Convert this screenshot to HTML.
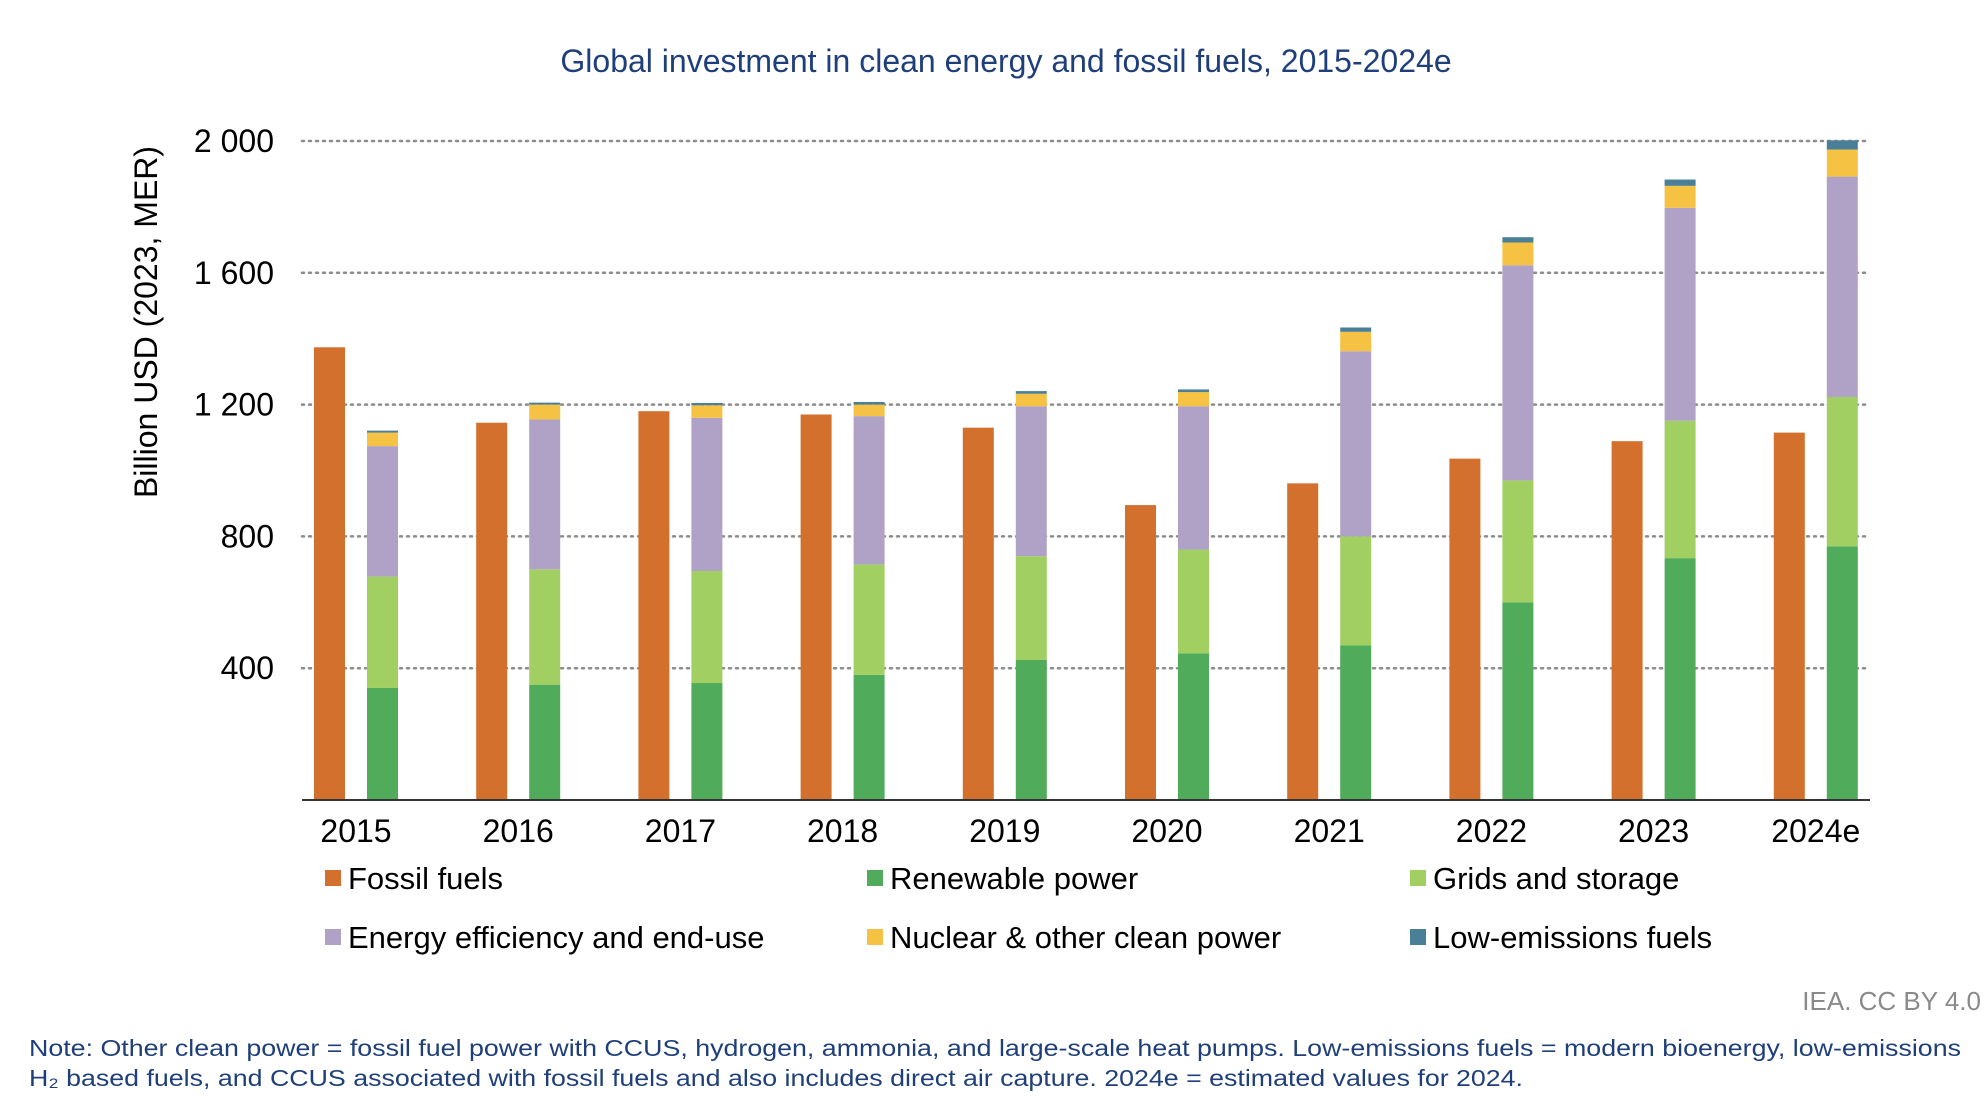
<!DOCTYPE html>
<html><head><meta charset="utf-8"><style>
body{margin:0;background:#fff;}
svg{display:block;font-family:"Liberation Sans",Arial,sans-serif;}
</style></head><body>
<svg id="chart" width="1986" height="1112" viewBox="0 0 1986 1112">
<text x="1006" y="72" text-anchor="middle" font-size="32" fill="#1f3f7a">Global investment in clean energy and fossil fuels, 2015-2024e</text>
<text transform="translate(157,322) rotate(-90)" text-anchor="middle" font-size="32" fill="#000">Billion USD (2023, MER)</text>
<g id="grid"></g><g id="bars"></g><g id="xlabels"></g>
<line x1="302" y1="800" x2="1870" y2="800" stroke="#333" stroke-width="2"/>
<g id="legend"></g>
<text x="1981" y="1010" text-anchor="end" font-size="26" fill="#8a8a8a">IEA. CC BY 4.0</text>
<text x="29" y="1056" font-size="23" fill="#1f3f7a" textLength="1932" lengthAdjust="spacingAndGlyphs">Note: Other clean power = fossil fuel power with CCUS, hydrogen, ammonia, and large-scale heat pumps. Low-emissions fuels = modern bioenergy, low-emissions</text>
<text x="29" y="1086" font-size="23" fill="#1f3f7a" textLength="1494" lengthAdjust="spacingAndGlyphs">H₂ based fuels, and CCUS associated with fossil fuels and also includes direct air capture. 2024e = estimated values for 2024.</text>
</svg>
<script>
const years = ["2015","2016","2017","2018","2019","2020","2021","2022","2023","2024e"];
const fossil = [1374,1145,1180,1170,1130,895,961,1036,1089,1115];
const renewable = [340,350,355,380,425,445,469,600,734,770];
const grids = [338,350,340,335,315,315,331,370,417,453];
const efficiency = [396,455,465,450,455,435,562,653,646,669];
const nuclear = [41,45,38,35,38,43,59,69,67,82];
const lowEmissions = [6,6,7,8,8,8,13,16,19,28];
const yTicks = [400,800,1200,1600,2000];
const yTickLabels = ["400","800","1 200","1 600","2 000"];

const NS="http://www.w3.org/2000/svg";
const y0=800, ppu=659/2000;
const yS=v=>y0-v*ppu;
const xF=i=>314+i*162.2;
const BW=31, COFF=53;
function mk(tag,attrs,parent){const e=document.createElementNS(NS,tag);for(const k in attrs)e.setAttribute(k,attrs[k]);parent.appendChild(e);return e;}
const grid=document.getElementById('grid'), bars=document.getElementById('bars'), xl=document.getElementById('xlabels'), lg=document.getElementById('legend');
yTicks.forEach((t,i)=>{
  const l=mk('line',{x1:302,x2:1870,y1:yS(t),y2:yS(t),stroke:'#8c8c8c','stroke-width':2.5,'stroke-dasharray':'2 5','stroke-linecap':'round'},grid);
  
  
  const tx=mk('text',{x:274,y:yS(t)+11,'text-anchor':'end','font-size':32,fill:'#000'},grid);
  tx.textContent=yTickLabels[i];
  
  
});
const series=[
 {name:'renewable-power',data:renewable,c:'#50ac5a'},
 {name:'grids-and-storage',data:grids,c:'#a1cf62'},
 {name:'energy-efficiency',data:efficiency,c:'#b0a2c6'},
 {name:'nuclear-other',data:nuclear,c:'#f5c244'},
 {name:'low-emissions-fuels',data:lowEmissions,c:'#4a7f97'}];
years.forEach((yr,i)=>{
  const fx=xF(i);
  const r=mk('rect',{x:fx,y:yS(fossil[i]),width:BW,height:fossil[i]*ppu,fill:'#d4702e'},bars);
  
  
  let cum=0;
  series.forEach(s=>{
    const v=s.data[i];
    const b=mk('rect',{x:fx+COFF,y:yS(cum+v),width:BW,height:v*ppu,fill:s.c},bars);
    
    
    cum+=v;
  });
  const t=mk('text',{x:fx+(COFF+BW)/2,y:842,'text-anchor':'middle','font-size':32,fill:'#000'},xl);
  t.textContent=yr;
  
  
});
const legendItems=[["Fossil fuels","#d4702e",325,878],["Renewable power","#50ac5a",867,878],["Grids and storage","#a1cf62",1410,878],
["Energy efficiency and end-use","#b0a2c6",325,937],["Nuclear & other clean power","#f5c244",867,937],["Low-emissions fuels","#4a7f97",1410,937]];
legendItems.forEach(it=>{
  const g=mk('g',{},lg);
  
  
  mk('rect',{x:it[2],y:it[3]-8,width:16,height:16,fill:it[1]},g);
  const t=mk('text',{x:it[2]+23,y:it[3]+11,'font-size':31,fill:'#000'},g);
  t.textContent=it[0];
});
</script>
</body></html>
